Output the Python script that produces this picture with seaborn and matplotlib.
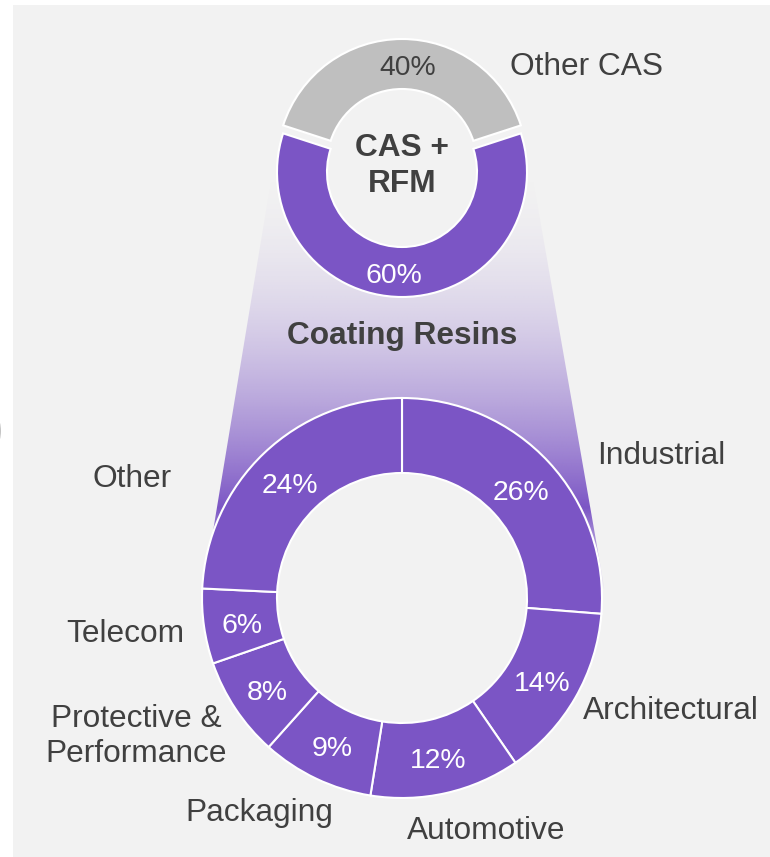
import numpy as np
import matplotlib
matplotlib.use("Agg")
import matplotlib.pyplot as plt
from matplotlib.patches import Rectangle, Circle, Polygon, Ellipse
import seaborn as sns

# ---- data -------------------------------------------------------------
cas_segments = ["Other CAS", "CAS + RFM"]
cas_share = [40, 60]

resin_segments = ["Industrial", "Architectural", "Automotive", "Packaging",
                  "Protective &\nPerformance", "Telecom", "Other"]
resin_share = [26, 14, 12, 9, 8, 6, 24]

# ---- style ------------------------------------------------------------
sns.set_theme(style="white")
plt.rcParams["font.family"] = ["Liberation Sans", "DejaVu Sans"]

PURPLE, GREY = sns.color_palette(["#7B55C5", "#BFBFBF"])
BG = "#F2F2F2"
INK = "#404040"

W, H = 770, 857
fig = plt.figure(figsize=(W / 100, H / 100), dpi=100, facecolor="white")
ax = fig.add_axes([0, 0, 1, 1])


def py(y):
    """Convert a top-down pixel row into the y-up axis coordinate."""
    return H - y


# panel background and neighbouring shape peeking in at the left margin
ax.add_patch(Rectangle((13, 0), W - 13, py(5), fc=BG, ec="none", zorder=0))
ax.add_patch(Ellipse((-14, py(431)), 30, 46, fc="#C4C4C4", ec="none", zorder=0))

# ---- funnel gradient linking the two donuts ---------------------------
top_c = (402, py(172))
bot_c = (402, py(598))
funnel = Polygon([(276, py(150)), (528, py(150)), (606, py(598)), (202, py(598))],
                 closed=True, fc="none", ec="none")
ax.add_patch(funnel)

rows = np.arange(150, 599)
rise = np.clip((rows - 160) / (508 - 160), 0, 1) ** 2.0
fall = np.clip((590 - rows) / (590 - 508), 0, 1)
alpha = np.where(rows <= 508, rise, fall)
grad = np.zeros((len(rows), 2, 4))
grad[..., :3] = PURPLE
grad[..., 3] = alpha[:, None]
im = ax.imshow(grad, extent=(202, 606, py(598), py(150)), origin="upper",
               aspect="auto", interpolation="bilinear", zorder=1)
im.set_clip_path(funnel)

# donut holes show the panel colour
ax.add_patch(Circle(bot_c, 125, fc=BG, ec="none", zorder=2))
ax.add_patch(Circle(top_c, 75, fc=BG, ec="none", zorder=2))

# ---- top donut: CAS + RFM share ---------------------------------------
tot_top = sum(cas_share)
wedges_t, _, pct_t = ax.pie(
    cas_share, colors=[GREY, PURPLE], startangle=18, counterclock=True,
    center=top_c, radius=125, explode=[8, 0],
    wedgeprops=dict(width=50, edgecolor="white", linewidth=1.5),
    autopct=lambda p: f"{p * tot_top / 100:.0f}%", pctdistance=0.8,
    textprops=dict(fontsize=20.4), frame=True)
for w in wedges_t:
    w.set_zorder(3)
pct_t[0].set_color(INK)
pct_t[1].set_color("white")
for t, dx in zip(pct_t, [6, -8]):
    x, y = t.get_position()
    t.set_position((x + dx, y - 4))
    t.set_zorder(4)

ax.text(510, py(75), cas_segments[0], fontsize=22.8, color=INK,
        ha="left", va="baseline", zorder=4)
ax.text(402, py(166), "CAS +\nRFM", fontsize=22.8, fontweight="bold",
        color=INK, ha="center", va="center", linespacing=1.22, zorder=4)

ax.text(402, py(336), "Coating Resins", fontsize=22.8, fontweight="bold",
        color=INK, ha="center", va="center", zorder=4)

# ---- bottom donut: coating resin end markets --------------------------
tot_bot = sum(resin_share)
wedges_b, _, pct_b = ax.pie(
    resin_share, colors=[PURPLE] * len(resin_share), startangle=90,
    counterclock=False, center=bot_c, radius=200,
    wedgeprops=dict(width=75, edgecolor="white", linewidth=1.5),
    autopct=lambda p: f"{p * tot_bot / 100:.0f}%", pctdistance=0.81,
    textprops=dict(fontsize=20.4, color="white"), frame=True)
for w in wedges_b:
    w.set_zorder(3)
for t in pct_b:
    x, y = t.get_position()
    t.set_position((x, y - 5))
    t.set_zorder(4)

# outer category labels (x, baseline row, alignment)
label_spots = [(597, 464, "left"), (583, 719, "left"), (407, 839, "left"),
               (185, 821, "left"), (136, 762, "center"), (66, 642, "left"),
               (92, 487, "left")]
for name, (x, yb, ha) in zip(resin_segments, label_spots):
    ax.text(x, py(yb), name, fontsize=22.8, color=INK, ha=ha, va="baseline",
            linespacing=1.2, multialignment="center", zorder=4)

ax.set_xlim(0, W)
ax.set_ylim(0, H)
ax.set_aspect("auto")
ax.axis("off")
fig.savefig("out.png", dpi=100, facecolor="white")
